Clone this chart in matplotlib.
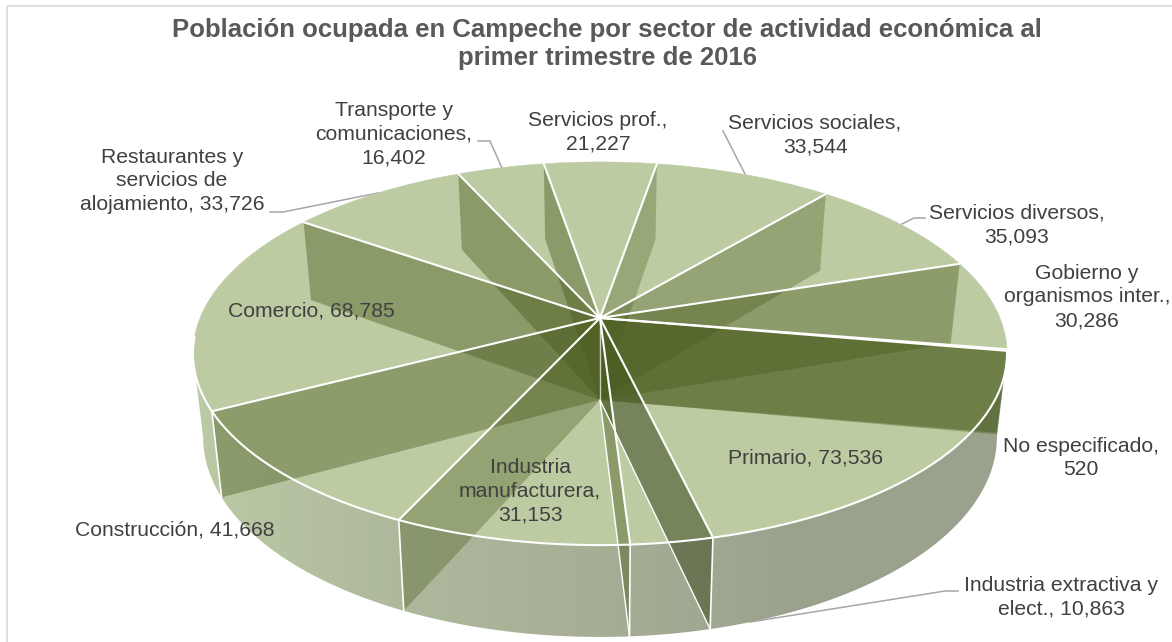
import numpy as np
import matplotlib
matplotlib.use("Agg")
import matplotlib.pyplot as plt
from matplotlib.patches import Polygon, Rectangle
from matplotlib.colors import LinearSegmentedColormap

plt.rcParams["font.family"] = ["Liberation Sans", "DejaVu Sans"]

TITLE = "Población ocupada en Campeche por sector de actividad económica al\nprimer trimestre de 2016"

# clockwise, starting at the Primario slice
sectors = [
    "Primario,", "Industria extractiva y\nelect.,", "Industria\nmanufacturera,\n",
    "Construcción,", "Comercio,", "Restaurantes y\nservicios de\nalojamiento,",
    "Transporte y\ncomunicaciones,\n", "Servicios prof.,\n", "Servicios sociales,\n",
    "Servicios diversos,\n", "Gobierno y\norganismos inter.,\n", "No especificado,\n",
]
values = [73536, 10863, 31153, 41668, 68785, 33726, 16402, 21227, 33544, 35093, 30286, 520]

# label centres in pixels, same order
label_xy = [
    (805, 458), (1061, 597), (530, 491), (175, 530), (311, 311), (172, 181),
    (394, 134), (598, 132), (815, 135), (1017, 225), (1087, 297), (1081, 458),
]
leaders = [
    [(958, 591), (945, 591), (750, 622)],
    [(270, 212), (283, 212), (378, 193)],
    [(478, 141), (490, 141), (502, 168)],
    [(723, 131), (745, 174)],
    [(925, 218), (914, 218), (902, 224)],
]

# pie geometry, in pixels
START_DEG = 9.9
PERSP = 0.1854
TOP = dict(cx=600, cy=318, a=185, b=400)
BOT = dict(cx=600, cy=400, a=193, b=390)

TOP_COLOR = "#bdcba3"
WALL = (74 / 255, 92 / 255, 30 / 255)
WALL_GREY = (72 / 255, 85 / 255, 45 / 255)
# wall opacity per slice boundary, lit differently depending on where it faces
wall_alpha = [0.44, 0.60, 0.44, 0.36, 0.42, 0.44, 0.44, 0.44, 0.32, 0.35, 0.42, 0.44]


def project(deg, plane):
    t = np.deg2rad(deg)
    u, v = np.cos(t), -np.sin(t)
    d = 1 + PERSP * v
    return plane["cx"] + plane["b"] * u / d, plane["cy"] - plane["a"] * v / d


def arc(d0, d1, plane, step=0.5):
    n = max(int(abs(d1 - d0) / step), 2)
    x, y = project(np.linspace(d0, d1, n), plane)
    return np.column_stack([x, y])


fig = plt.figure(figsize=(11.72, 6.42), dpi=100, facecolor="white")
ax = fig.add_axes([0, 0, 1, 1])
ax.axis("off")

edges = START_DEG + np.concatenate([[0], np.cumsum(values)]) / sum(values) * 360

# chart border, cropped on the right and at the bottom
ax.add_patch(Rectangle((6.5, 6), 1175, 660, fill=False, ec="#d9d9d9", lw=1.2, zorder=0))

for pts in leaders:
    xs, ys = zip(*pts)
    ax.plot(xs, ys, color="#a6a6a6", lw=1.1, zorder=1)

# outer side, between the two silhouette tangents
tangent = np.rad2deg(np.arcsin(PERSP))
rim = np.vstack([arc(tangent, 180 - tangent, TOP), arc(180 - tangent, tangent, BOT)])
rim_patch = Polygon(rim, closed=True, fc="none", ec="none")
ax.add_patch(rim_patch)
rim_cmap = LinearSegmentedColormap.from_list(
    "rim", [(0, "#bccaa5"), (0.25, "#aeb99c"), (0.5, "#a6ae95"), (0.75, "#9aa28e"), (1, "#9aa28e")]
)
im = ax.imshow(
    np.linspace(0, 1, 256)[None, :], extent=(190, 1010, 642, 300), cmap=rim_cmap,
    aspect="auto", zorder=2, interpolation="bilinear",
)
im.set_clip_path(rim_patch)

# top faces
for d0, d1 in zip(edges[:-1], edges[1:]):
    poly = np.vstack([[TOP["cx"], TOP["cy"]], arc(d0, d1, TOP)])
    ax.add_patch(Polygon(poly, closed=True, fc=TOP_COLOR, ec=TOP_COLOR, lw=0.3, zorder=3))

# radial walls, seen through the transparent top
for i, d in enumerate(edges[:-1]):
    tx, ty = project(d, TOP)
    bx, by = project(d, BOT)
    quad = [(TOP["cx"], TOP["cy"]), (tx, ty), (bx, by), (BOT["cx"], BOT["cy"])]
    color = WALL_GREY if i == 1 else WALL
    ax.add_patch(Polygon(quad, closed=True, fc=color, ec="none", alpha=wall_alpha[i], zorder=4))

# white slice edges
line = dict(color="white", solid_capstyle="round", zorder=5)
for i, d in enumerate(edges[:-1]):
    tx, ty = project(d, TOP)
    ax.plot([TOP["cx"], tx], [TOP["cy"], ty], lw=1.5, **line)
    if 20 < (d % 360) < 180:
        bx, by = project(d, BOT)
        ax.plot([tx, bx], [ty, by], lw=1.2, **line)
        if d % 360 < 100:
            ax.plot([BOT["cx"], bx], [BOT["cy"], by], lw=1.0, **line)
front = arc(START_DEG, 180 - tangent + 5, TOP)
ax.plot(front[:, 0], front[:, 1], lw=1.5, **line)
ax.plot([TOP["cx"]] * 2, [TOP["cy"], BOT["cy"]], color="white", alpha=0.7, lw=1.0, zorder=5)

ax.text(607, 44, TITLE, ha="center", va="center", fontsize=18.5, fontweight="bold",
        color="#595959", linespacing=1.2, zorder=6)

for name, value, (x, y) in zip(sectors, values, label_xy):
    sep = "" if name.endswith("\n") else " "
    ax.text(x, y, f"{name}{sep}{value:,}", ha="center", va="center", fontsize=15.2,
            color="#404040", linespacing=1.33, zorder=6)

ax.set_xlim(0, 1172)
ax.set_ylim(642, 0)
fig.savefig("out.png", dpi=100, facecolor="white")
